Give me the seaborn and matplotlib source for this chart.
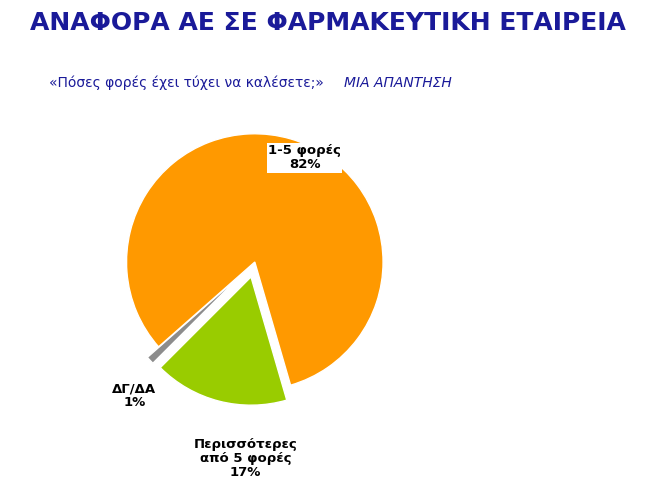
import matplotlib.pyplot as plt
import seaborn as sns

sns.set_theme(style="white")

categories = ["ΔΓ/ΔΑ", "Περισσότερες\nαπό 5 φορές", "1-5 φορές"]
values = [1, 17, 82]
colors = ["#8c8c8c", "#99cc00", "#ff9900"]

fig = plt.figure(figsize=(6.55, 5.01), dpi=100)
ax = fig.add_axes([0.144, 0.157, 0.49, 0.64])

wedges, _ = ax.pie(values, colors=colors, startangle=221.4, counterclock=True,
                   explode=[0.12, 0.12, 0.0],
                   wedgeprops=dict(edgecolor="white", linewidth=1))
ax.set_aspect("equal")

fig.text(0.5, 0.955, "ΑΝΑΦΟΡΑ ΑΕ ΣΕ ΦΑΡΜΑΚΕΥΤΙΚΗ ΕΤΑΙΡΕΙΑ", ha="center", va="center",
         fontsize=18, fontweight="bold", color="#1a1a99", family="DejaVu Sans")
fig.text(0.075, 0.835, "«Πόσες φορές έχει τύχει να καλέσετε;»", fontsize=10,
         color="#1a1a99", ha="left", va="center")
fig.text(0.525, 0.835, "ΜΙΑ ΑΠΑΝΤΗΣΗ", fontsize=10, color="#1a1a99",
         style="italic", ha="left", va="center")

label_pos = [(0.205, 0.21), (0.375, 0.085), (0.465, 0.685)]
for name, v, (x, y) in zip(categories, values, label_pos):
    fig.text(x, y, f"{name}\n{v}%", ha="center", va="center", fontsize=9.5,
             fontweight="bold", linespacing=1.1, color="black",
             bbox=dict(facecolor="white", edgecolor="none", pad=1))

fig.savefig("out.png", dpi=100, facecolor="white")
